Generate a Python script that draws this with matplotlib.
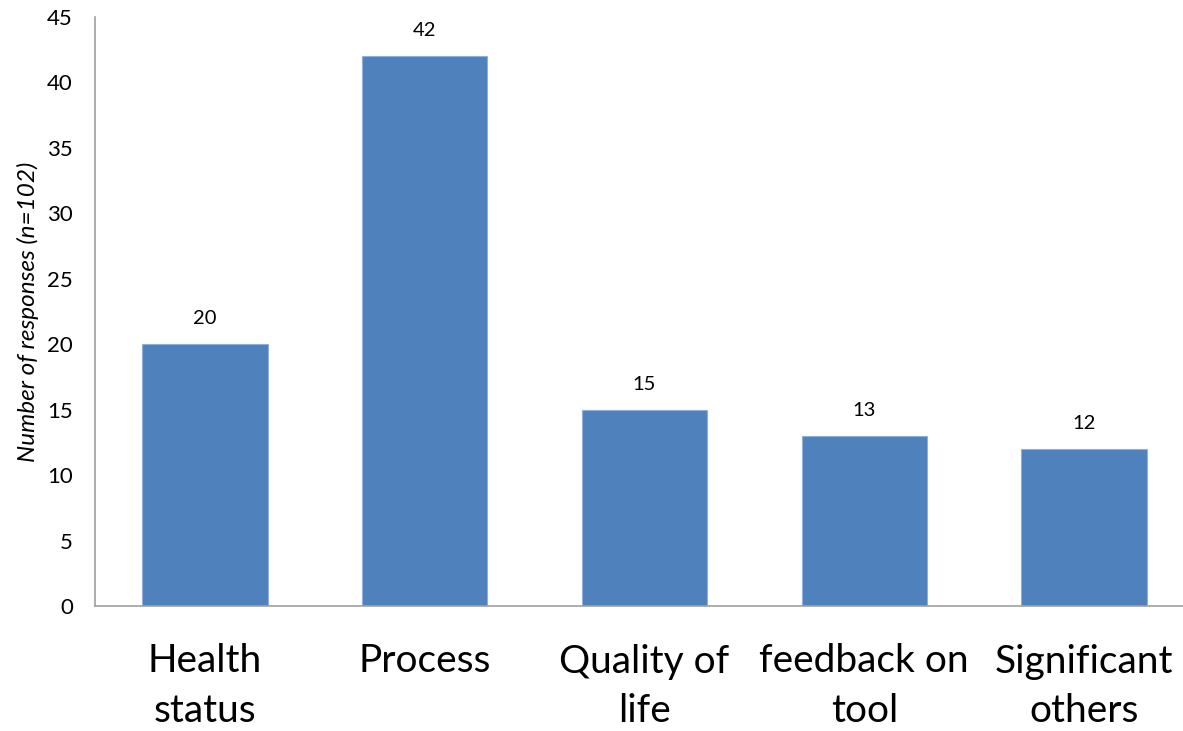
import matplotlib.pyplot as plt

plt.rcParams['font.family'] = ['Lato', 'DejaVu Sans']

categories = ['Health\nstatus', 'Process', 'Quality of\nlife', 'feedback on\ntool', 'Significant\nothers']
responses = [20, 42, 15, 13, 12]
y_ticks = [0, 5, 10, 15, 20, 25, 30, 35, 40, 45]

fig = plt.figure(figsize=(11.83, 7.31), dpi=100)
ax = fig.add_axes([95 / 1183, 125 / 731, 1 - 95 / 1183, 589 / 731])

x = range(len(categories))
bars = ax.bar(x, responses, width=0.57, color='#4F81BD', edgecolor='#8EB0DA', linewidth=0.8)

for xi, v in zip(x, responses):
    ax.text(xi, v + 1.3, str(v), ha='center', va='bottom', fontsize=14.5)

ax.set_xlim(-0.5, 4.45)
ax.set_ylim(0, 45)
ax.set_yticks(y_ticks)
ax.set_xticks(list(x))
ax.set_xticklabels(categories, fontsize=28, linespacing=1.45)
ax.tick_params(axis='both', length=0)
ax.tick_params(axis='y', labelsize=16, pad=16)
ax.tick_params(axis='x', pad=27)

for side in ['top', 'right']:
    ax.spines[side].set_visible(False)
for side in ['left', 'bottom']:
    ax.spines[side].set_color('#A0A0A0')
    ax.spines[side].set_linewidth(1.2)

ax.set_ylabel('Number of responses (n=102)', fontsize=17.5, style='italic', labelpad=6)

fig.savefig('out.png', dpi=100)
